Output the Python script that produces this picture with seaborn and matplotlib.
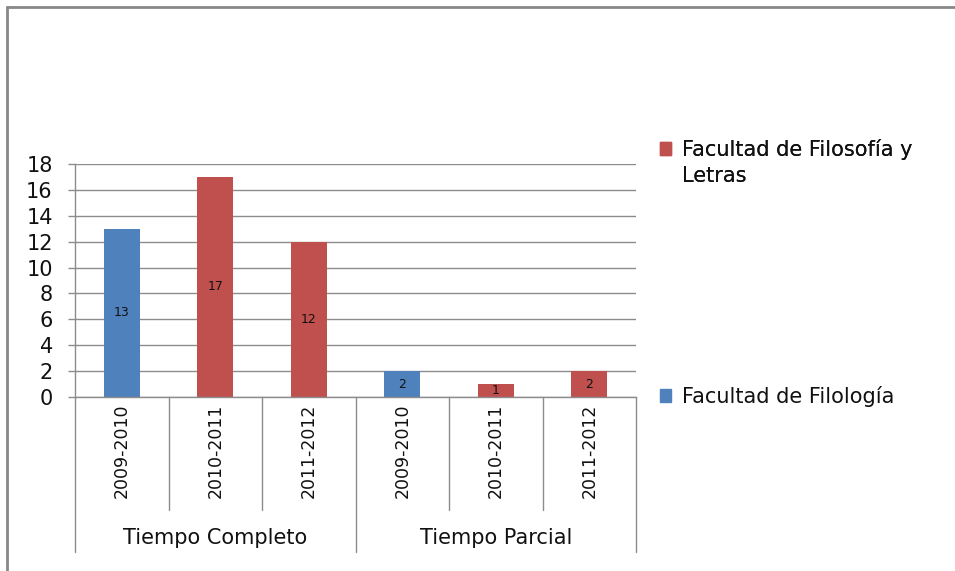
import pandas as pd
import matplotlib.pyplot as plt
import seaborn as sns
from matplotlib.lines import Line2D
from matplotlib.patches import Patch

# data
groups = ["Tiempo Completo", "Tiempo Parcial"]
years = ["2009-2010", "2010-2011", "2011-2012"]
faculties = ["Facultad de Filología", "Facultad de Filosofía y Letras"]
bar_faculty = [0, 1, 1, 0, 1, 1]
bar_values = [13, 17, 12, 2, 1, 2]
y_ticks = [0, 2, 4, 6, 8, 10, 12, 14, 16, 18]

blue = "#4F81BD"
red = "#C0504D"
grid_color = "#8C8C8C"
text_color = "#111111"

df = pd.DataFrame({
    "key": [f"{g}|{y}" for g in groups for y in years],
    "facultad": [faculties[i] for i in bar_faculty],
    "valor": bar_values,
})

sns.set_theme(style="white")
plt.rcParams["font.family"] = ["DejaVu Sans"]

fig = plt.figure(figsize=(9.55, 5.71), dpi=100)
ax = fig.add_axes([75 / 955, 1 - 397 / 571, (636 - 75) / 955, (397 - 164) / 571])

sns.barplot(data=df, x="key", y="valor", hue="facultad", hue_order=faculties,
            palette=[blue, red], dodge=False, width=0.385, ax=ax, legend=False,
            linewidth=0, saturation=1)

for cont in ax.containers:
    ax.bar_label(cont, label_type="center", fontsize=9, color=text_color)

ax.set_ylim(0, 18)
ax.set_xlim(-0.5, len(df) - 0.5)
ax.set_yticks(y_ticks)
ax.yaxis.grid(True, color=grid_color, linewidth=1)
ax.set_axisbelow(True)
ax.tick_params(axis="y", left=True, length=5, width=1, color=grid_color,
               pad=11, labelsize=15, labelcolor=text_color)
ax.set_xticks(range(len(df)))
ax.set_xticklabels(years * len(groups), rotation=90, fontsize=12.5, color=text_color)
ax.tick_params(axis="x", bottom=False, length=0, pad=5)
ax.set_xlabel("")
ax.set_ylabel("")
for side in ["top", "right"]:
    ax.spines[side].set_visible(False)
for side in ["left", "bottom"]:
    ax.spines[side].set_color(grid_color)
    ax.spines[side].set_linewidth(1)

# category separators under the axis
trans = ax.get_xaxis_transform()
inner_depth = -(510 - 397) / 233
outer_depth = -(552 - 397) / 233
for i in range(len(df) + 1):
    xpos = i - 0.5
    depth = outer_depth if i % len(years) == 0 else inner_depth
    ax.plot([xpos, xpos], [0, depth], color=grid_color, lw=1,
            transform=trans, clip_on=False)
for gi, g in enumerate(groups):
    xc = gi * len(years) + (len(years) - 1) / 2
    ax.text(xc, -(538 - 397) / 233, g, transform=trans, ha="center", va="center",
            fontsize=15, color=text_color)

# legend: red entry on top (wrapped label), blue entry at the bottom
blank = Patch(facecolor="none", edgecolor="none")
leg_kw = dict(loc="upper left", frameon=False, fontsize=15, handlelength=0.55,
              handleheight=0.55, handletextpad=0.5, borderpad=0, borderaxespad=0,
              labelcolor=text_color)
leg1 = fig.legend(handles=[Patch(color=red), blank],
                  labels=["Facultad de Filosofía y", "Letras"],
                  bbox_to_anchor=(660 / 955, 1 - 139 / 571), labelspacing=0.3, **leg_kw)
fig.legend(handles=[Patch(color=blue)], labels=[faculties[0]],
           bbox_to_anchor=(660 / 955, 1 - 386 / 571), **leg_kw)
fig.add_artist(leg1)

# outer chart frame (top and left edges only visible)
fig.add_artist(Line2D([7 / 955, 1], [1 - 7 / 571, 1 - 7 / 571], color="#888888", lw=2))
fig.add_artist(Line2D([7 / 955, 7 / 955], [0, 1 - 7 / 571], color="#888888", lw=2))

fig.savefig("out.png", dpi=100, facecolor="white")
